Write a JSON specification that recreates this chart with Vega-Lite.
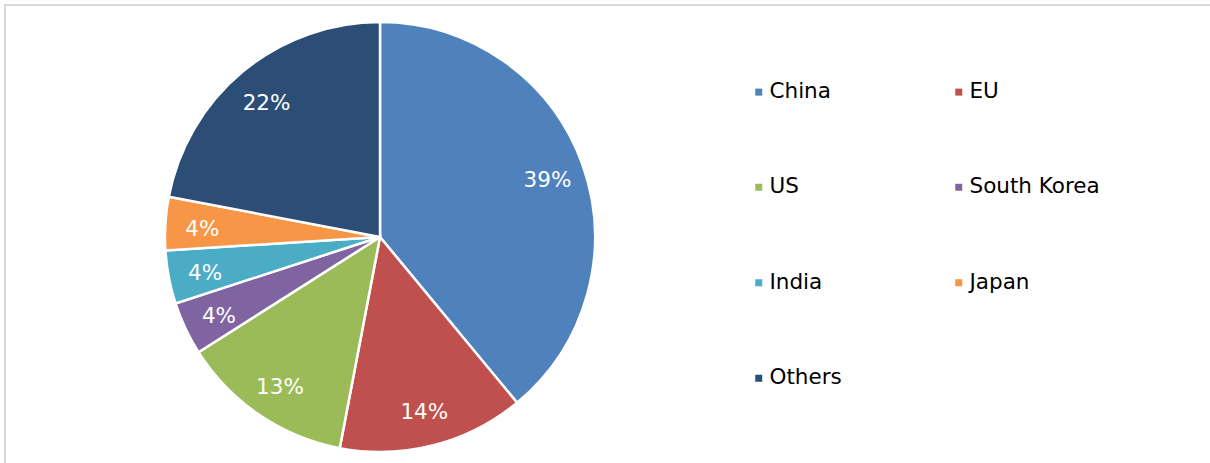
{
  "$schema": "https://vega.github.io/schema/vega-lite/v6.json",
  "autosize": {"type": "none"},
  "padding": {"left": 5, "top": 5, "right": 0, "bottom": 0},
  "width": 1210,
  "height": 463,
  "background": "white",
  "view": {"stroke": "#d9d9d9", "strokeWidth": 2},
  "config": {
    "view": {"stroke": "#d9d9d9", "strokeWidth": 2},
    "font": "DejaVu Sans"
  },
  "data": {
    "values": [
      {"region": "China", "share": 0.39, "order": 1},
      {"region": "EU", "share": 0.14, "order": 2},
      {"region": "US", "share": 0.13, "order": 3},
      {"region": "South Korea", "share": 0.04, "order": 4},
      {"region": "India", "share": 0.04, "order": 5},
      {"region": "Japan", "share": 0.04, "order": 6},
      {"region": "Others", "share": 0.22, "order": 7}
    ]
  },
  "encoding": {
    "theta": {"field": "share", "type": "quantitative", "stack": true},
    "order": {"field": "order", "type": "quantitative"}
  },
  "layer": [
    {
      "mark": {"type": "arc", "outerRadius": 215, "stroke": "white", "strokeWidth": 2.5, "x": 375, "y": 232},
      "encoding": {
        "color": {
          "field": "region",
          "type": "nominal",
          "scale": {
            "domain": ["China", "EU", "US", "South Korea", "India", "Japan", "Others"],
            "range": ["#4F81BD", "#C0504D", "#9BBB59", "#8064A2", "#4BACC6", "#F79646", "#2C4D75"]
          },
          "legend": {
            "title": null,
            "orient": "none",
            "direction": "horizontal",
            "legendX": 743,
            "legendY": 76,
            "columns": 2,
            "columnPadding": 106,
            "rowPadding": 72.5,
            "symbolType": "square",
            "symbolSize": 49,
            "symbolStrokeWidth": 0,
            "labelFontSize": 21.5,
            "labelColor": "#000000",
            "labelFont": "DejaVu Sans",
            "labelOffset": 0,
            "padding": 0
          }
        }
      }
    },
    {
      "mark": {"type": "text", "radius": 178, "fill": "white", "fontSize": 21.5, "font": "DejaVu Sans", "align": "center", "baseline": "middle", "dy": 4, "x": 375, "y": 232},
      "encoding": {
        "text": {"field": "share", "type": "quantitative", "format": ".0%"}
      }
    }
  ]
}
